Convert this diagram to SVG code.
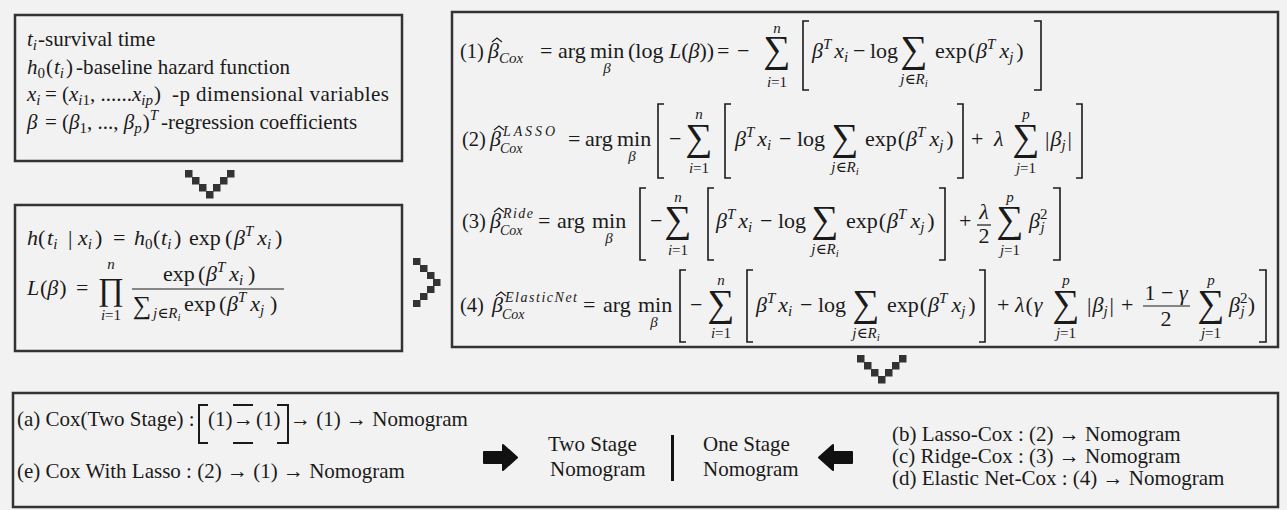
<svg xmlns="http://www.w3.org/2000/svg" width="1287" height="510" viewBox="0 0 1287 510">
<style>
.box{fill:#f2f2f2;stroke:#333;stroke-width:2.5}
text{font-family:"Liberation Serif","DejaVu Serif",serif;fill:#1a1a1a}
.m{font-size:22px}
.lb{font-size:20.5px}
.t{font-size:21px}
.i{font-style:italic}
.s{font-size:15px}
.sc{font-size:14px}
.ss{font-size:11px}
.sum{font-size:38px}
.br{fill:none;stroke:#1a1a1a;stroke-width:1.6}
.hat{fill:none;stroke:#1a1a1a;stroke-width:1.1}
.px{fill:#333}
.ln{stroke:#1a1a1a;stroke-width:1.2}
.mid{text-anchor:middle}
</style>
<rect x="0" y="0" width="1287" height="510" fill="#f2f2f2"/>

<g id="node-definitions">
<rect class="box" x="15" y="15" width="387" height="146"/>
<text class="t" x="27" y="46"><tspan class="i">t</tspan><tspan class="s i" dy="4">i</tspan><tspan dy="-4" dx="1">-survival time</tspan></text>
<text class="t" x="27" y="74"><tspan class="i">h</tspan><tspan class="s" dy="4">0</tspan><tspan dy="-4" dx="1">(</tspan><tspan class="i" dx="1">t</tspan><tspan class="s i" dy="4">i</tspan><tspan dy="-4" dx="2">)</tspan></text>
<text class="t" x="76" y="74" textLength="214" lengthAdjust="spacing">-baseline hazard function</text>
<text class="t" x="27" y="101"><tspan class="i">x</tspan><tspan class="s i" dy="4">i</tspan></text>
<text class="t" x="45" y="101">=</text>
<text class="t" x="62" y="101">(<tspan class="i">x</tspan><tspan class="s i" dy="4">i</tspan><tspan class="s">1</tspan><tspan dy="-4">, ......</tspan><tspan class="i">x</tspan><tspan class="s i" dy="4">ip</tspan><tspan dy="-4" dx="1">)</tspan></text>
<text class="t" x="172" y="101" textLength="217" lengthAdjust="spacing">-p dimensional variables</text>
<text class="t i" x="27" y="129">β</text>
<text class="t" x="45" y="129">=</text>
<text class="t" x="62" y="129">(<tspan class="i">β</tspan><tspan class="s" dy="4">1</tspan><tspan dy="-4">, ..., </tspan><tspan class="i">β</tspan><tspan class="s i" dy="4">p</tspan><tspan dy="-4" dx="1">)</tspan><tspan class="s i" dy="-9">T</tspan></text>
<text class="t" x="161" y="129">-regression coefficients</text>
</g>

<g id="node-model">
<rect class="box" x="15" y="205" width="387" height="146"/>
<text class="m i" x="27" y="245">h</text>
<text class="m" x="38" y="245">(</text>
<text class="m" x="47" y="245"><tspan class="i">t</tspan><tspan class="s i" dy="4">i</tspan></text>
<text class="m" x="68" y="245">|</text>
<text class="m" x="78" y="245"><tspan class="i">x</tspan><tspan class="s i" dy="4">i</tspan></text>
<text class="m" x="95" y="245">)</text>
<text class="m" x="113" y="245">=</text>
<text class="m" x="134" y="245"><tspan class="i">h</tspan><tspan class="s" dy="4">0</tspan></text>
<text class="m" x="153" y="245">(</text>
<text class="m" x="161" y="245"><tspan class="i">t</tspan><tspan class="s i" dy="4">i</tspan></text>
<text class="m" x="174" y="245">)</text>
<text class="m" x="189" y="245">exp</text>
<text class="m" x="225" y="245">(</text>
<text class="m" x="234" y="245"><tspan class="i">β</tspan><tspan class="s i" dy="-9">T</tspan><tspan class="i" dy="9" dx="4">x</tspan><tspan class="s i" dy="4">i</tspan></text>
<text class="m" x="275" y="245">)</text>

<text class="m i" x="27" y="295">L</text>
<text class="m" x="40" y="295">(<tspan class="i">β</tspan><tspan dx="1">)</tspan></text>
<text class="m" x="76" y="295">=</text>
<text class="mid" x="111" y="300" font-size="32">∏</text>
<text class="s i mid" x="111" y="269">n</text>
<text class="s mid" x="111" y="320"><tspan class="i">i</tspan>=1</text>
<line class="ln" x1="132" y1="289" x2="284" y2="289"/>
<text class="m" x="163" y="281">exp</text>
<text class="m" x="198" y="281">(</text>
<text class="m" x="206" y="281"><tspan class="i">β</tspan><tspan class="s i" dy="-9">T</tspan><tspan class="i" dy="9" dx="4">x</tspan><tspan class="s i" dy="4">i</tspan></text>
<text class="m" x="248" y="281">)</text>
<text class="mid" x="142" y="314" font-size="26">∑</text>
<text class="s i" x="153" y="318">j<tspan font-style="normal">∈</tspan>R<tspan class="ss" dy="3">i</tspan></text>
<text class="m" x="184" y="311">exp</text>
<text class="m" x="219" y="311">(</text>
<text class="m" x="227" y="311"><tspan class="i">β</tspan><tspan class="s i" dy="-9">T</tspan><tspan class="i" dy="9" dx="4">x</tspan><tspan class="s i" dy="4">j</tspan></text>
<text class="m" x="270" y="311">)</text>
</g>

<g id="node-equations">
<rect class="box" x="452" y="12" width="826" height="335"/>
<!-- (1) -->
<text class="lb" x="460" y="58">(1)</text>
<text class="m i" x="488" y="58">β</text>
<polyline class="hat" points="492,42 497,38 502,42"/>
<text class="s i" x="499" y="63">Cox</text>
<text class="m" x="540" y="58">=</text>
<text class="m" x="558" y="58">arg</text>
<text class="m" x="590" y="58">min</text>
<text class="s i mid" x="607" y="73">β</text>
<text class="m" x="628" y="58">(log <tspan class="i">L</tspan>(<tspan class="i">β</tspan>))</text>
<text class="m" x="717" y="58">=</text>
<text class="m" x="737" y="58">−</text>
<text class="sum mid" x="777" y="62">∑</text>
<text class="s i mid" x="777" y="33">n</text>
<text class="s mid" x="777" y="87"><tspan class="i">i</tspan>=1</text>
<path class="br" d="M809,21H803V90H809"/>
<text class="m" x="812" y="58"><tspan class="i">β</tspan><tspan class="s i" dy="-9">T</tspan><tspan class="i" dy="9" dx="3">x</tspan><tspan class="s i" dy="4">i</tspan></text>
<text class="m" x="853" y="58">−</text>
<text class="m" x="870" y="58">log</text>
<text class="sum mid" x="914" y="62">∑</text>
<text class="s i mid" x="914" y="84">j<tspan font-style="normal">∈</tspan>R<tspan class="ss" dy="3">i</tspan></text>
<text class="m" x="935" y="58">exp<tspan dx="1">(</tspan><tspan class="i" dx="1">β</tspan><tspan class="s i" dy="-9">T</tspan><tspan class="i" dy="9" dx="4">x</tspan><tspan class="s i" dy="4">j</tspan><tspan dy="-4" dx="3">)</tspan></text>
<path class="br" d="M1034,21H1041V90H1034"/>

<!-- (2) -->
<text class="lb" x="462" y="146">(2)</text>
<text class="m i" x="490" y="146">β</text>
<polyline class="hat" points="494,130 499,126 504,130"/>
<text class="sc i" x="503" y="136" textLength="52" lengthAdjust="spacing">LASSO</text>
<text class="sc i" x="500" y="153">Cox</text>
<text class="m" x="568" y="146">=</text>
<text class="m" x="585" y="146">arg</text>
<text class="m" x="617" y="146">min</text>
<text class="s i mid" x="632" y="161">β</text>
<path class="br" d="M664,104H658V178H664"/>
<text class="m" x="669" y="146">−</text>
<text class="sum mid" x="699" y="150">∑</text>
<text class="s i mid" x="699" y="119">n</text>
<text class="s mid" x="699" y="173"><tspan class="i">i</tspan>=1</text>
<path class="br" d="M731,104H725V178H731"/>
<text class="m" x="735" y="146"><tspan class="i">β</tspan><tspan class="s i" dy="-9">T</tspan><tspan class="i" dy="9" dx="3">x</tspan><tspan class="s i" dy="4">i</tspan></text>
<text class="m" x="779" y="146">−</text>
<text class="m" x="797" y="146">log</text>
<text class="sum mid" x="845" y="150">∑</text>
<text class="s i mid" x="845" y="172">j<tspan font-style="normal">∈</tspan>R<tspan class="ss" dy="3">i</tspan></text>
<text class="m" x="865" y="146">exp<tspan dx="1">(</tspan><tspan class="i" dx="1">β</tspan><tspan class="s i" dy="-9">T</tspan><tspan class="i" dy="9" dx="4">x</tspan><tspan class="s i" dy="4">j</tspan><tspan dy="-4" dx="3">)</tspan></text>
<path class="br" d="M957,104H963V178H957"/>
<text class="m" x="971" y="146">+</text>
<text class="m i" x="994" y="146">λ</text>
<text class="sum mid" x="1026" y="150">∑</text>
<text class="s i mid" x="1026" y="119">p</text>
<text class="s mid" x="1026" y="173"><tspan class="i">j</tspan>=1</text>
<text class="m" x="1045" y="146">|<tspan class="i" dx="1">β</tspan><tspan class="s i" dy="4">j</tspan><tspan dy="-4" dx="2">|</tspan></text>
<path class="br" d="M1076,104H1082V178H1076"/>

<!-- (3) -->
<text class="lb" x="462" y="228">(3)</text>
<text class="m i" x="490" y="228">β</text>
<polyline class="hat" points="494,212 499,208 504,212"/>
<text class="sc i" x="503" y="218" textLength="30" lengthAdjust="spacing">Ride</text>
<text class="sc i" x="500" y="235">Cox</text>
<text class="m" x="538" y="228">=</text>
<text class="m" x="557" y="228">arg</text>
<text class="m" x="592" y="228">min</text>
<text class="s i mid" x="609" y="243">β</text>
<path class="br" d="M646,188H640V260H646"/>
<text class="m" x="650" y="228">−</text>
<text class="sum mid" x="678" y="232">∑</text>
<text class="s i mid" x="678" y="202">n</text>
<text class="s mid" x="678" y="255"><tspan class="i">i</tspan>=1</text>
<path class="br" d="M714,188H708V260H714"/>
<text class="m" x="716" y="228"><tspan class="i">β</tspan><tspan class="s i" dy="-9">T</tspan><tspan class="i" dy="9" dx="3">x</tspan><tspan class="s i" dy="4">i</tspan></text>
<text class="m" x="760" y="228">−</text>
<text class="m" x="778" y="228">log</text>
<text class="sum mid" x="825" y="232">∑</text>
<text class="s i mid" x="825" y="254">j<tspan font-style="normal">∈</tspan>R<tspan class="ss" dy="3">i</tspan></text>
<text class="m" x="846" y="228">exp<tspan dx="1">(</tspan><tspan class="i" dx="1">β</tspan><tspan class="s i" dy="-9">T</tspan><tspan class="i" dy="9" dx="4">x</tspan><tspan class="s i" dy="4">j</tspan><tspan dy="-4" dx="3">)</tspan></text>
<path class="br" d="M939,188H945V260H939"/>
<text class="m" x="959" y="228">+</text>
<text class="m i mid" x="984" y="219">λ</text>
<line class="ln" x1="977" y1="225" x2="991" y2="225"/>
<text class="m mid" x="984" y="243">2</text>
<text class="sum mid" x="1010" y="232">∑</text>
<text class="s i mid" x="1010" y="202">p</text>
<text class="s mid" x="1010" y="255"><tspan class="i">j</tspan>=1</text>
<text class="m" x="1029" y="228"><tspan class="i">β</tspan><tspan class="s" dy="-9">2</tspan><tspan class="s i" dx="-7" dy="13">j</tspan></text>
<path class="br" d="M1053,188H1060V260H1053"/>

<!-- (4) -->
<text class="lb" x="460" y="312">(4)</text>
<text class="m i" x="492" y="312">β</text>
<polyline class="hat" points="496,296 501,292 506,296"/>
<text class="sc i" x="505" y="302" textLength="72" lengthAdjust="spacing">ElasticNet</text>
<text class="sc i" x="502" y="319">Cox</text>
<text class="m" x="583" y="312">=</text>
<text class="m" x="603" y="312">arg</text>
<text class="m" x="638" y="312">min</text>
<text class="s i mid" x="654" y="327">β</text>
<path class="br" d="M686,270H680V342H686"/>
<text class="m" x="690" y="312">−</text>
<text class="sum mid" x="721" y="316">∑</text>
<text class="s i mid" x="721" y="285">n</text>
<text class="s mid" x="721" y="338"><tspan class="i">i</tspan>=1</text>
<path class="br" d="M753,270H747V342H753"/>
<text class="m" x="756" y="312"><tspan class="i">β</tspan><tspan class="s i" dy="-9">T</tspan><tspan class="i" dy="9" dx="3">x</tspan><tspan class="s i" dy="4">i</tspan></text>
<text class="m" x="800" y="312">−</text>
<text class="m" x="818" y="312">log</text>
<text class="sum mid" x="866" y="316">∑</text>
<text class="s i mid" x="866" y="338">j<tspan font-style="normal">∈</tspan>R<tspan class="ss" dy="3">i</tspan></text>
<text class="m" x="887" y="312">exp<tspan dx="1">(</tspan><tspan class="i" dx="1">β</tspan><tspan class="s i" dy="-9">T</tspan><tspan class="i" dy="9" dx="4">x</tspan><tspan class="s i" dy="4">j</tspan><tspan dy="-4" dx="3">)</tspan></text>
<path class="br" d="M979,270H985V342H979"/>
<text class="m" x="997" y="312">+</text>
<text class="m" x="1015" y="312"><tspan class="i">λ</tspan><tspan dx="1">(</tspan><tspan class="i" dx="1">γ</tspan></text>
<text class="sum mid" x="1066" y="316">∑</text>
<text class="s i mid" x="1066" y="285">p</text>
<text class="s mid" x="1066" y="338"><tspan class="i">j</tspan>=1</text>
<text class="m" x="1087" y="312">|<tspan class="i" dx="1">β</tspan><tspan class="s i" dy="4">j</tspan><tspan dy="-4" dx="2">|</tspan></text>
<text class="m" x="1121" y="312">+</text>
<text class="m mid" x="1166" y="300">1 − <tspan class="i">γ</tspan></text>
<line class="ln" x1="1143" y1="306" x2="1190" y2="306"/>
<text class="m mid" x="1166" y="326">2</text>
<text class="sum mid" x="1211" y="316">∑</text>
<text class="s i mid" x="1211" y="285">p</text>
<text class="s mid" x="1211" y="338"><tspan class="i">j</tspan>=1</text>
<text class="m" x="1229" y="312"><tspan class="i">β</tspan><tspan class="s" dy="-9">2</tspan><tspan class="s i" dx="-7" dy="13">j</tspan><tspan dx="3" dy="-4">)</tspan></text>
<path class="br" d="M1259,270H1266V342H1259"/>
</g>

<g id="node-methods">
<rect class="box" x="13" y="393" width="1265" height="114"/>
<text class="t" x="17" y="426">(a) Cox(Two Stage) :</text>
<path fill="none" stroke="#1a1a1a" stroke-width="2" d="M208,405H199V443H208M233,405H253M233,443H253M277,405H288V443H277"/>
<text class="t" x="208" y="426">(1)</text>
<text class="t" x="233" y="426">→</text>
<text class="t" x="256" y="426">(1)</text>
<text class="t" x="290" y="426">→ (1) → Nomogram</text>
<text class="t" x="17" y="478">(e) Cox With Lasso : (2) → (1) → Nomogram</text>
<path fill="#111" stroke="#111" stroke-width="2" stroke-linejoin="round" d="M484,452H503V445L517,457.5L503,470V463H484Z"/>
<text class="t" x="548" y="451">Two Stage</text>
<text class="t" x="550" y="476">Nomogram</text>
<rect x="671" y="435" width="3" height="46" fill="#111"/>
<text class="t" x="703" y="451">One Stage</text>
<text class="t" x="703" y="476">Nomogram</text>
<path fill="#111" stroke="#111" stroke-width="2" stroke-linejoin="round" d="M852,452H833V445L819,457.5L833,470V463H852Z"/>
<text class="t" x="892" y="441">(b) Lasso-Cox : (2) → Nomogram</text>
<text class="t" x="892" y="463">(c) Ridge-Cox : (3) → Nomogram</text>
<text class="t" x="892" y="485">(d) Elastic Net-Cox : (4) → Nomogram</text>
</g>

<g id="connectors">
<g class="px">
<rect x="185" y="170" width="7.5" height="7.5"/><rect x="227" y="170" width="7.5" height="7.5"/>
<rect x="192" y="177" width="7.5" height="7.5"/><rect x="220" y="177" width="7.5" height="7.5"/>
<rect x="199" y="184" width="7.5" height="7.5"/><rect x="213" y="184" width="7.5" height="7.5"/>
<rect x="206" y="191" width="7.5" height="7.5"/>
</g>
<g class="px">
<rect x="413" y="258" width="7.5" height="7"/>
<rect x="420" y="265" width="7.5" height="7"/>
<rect x="427" y="272" width="7.5" height="7"/>
<rect x="433" y="279" width="7.5" height="7"/>
<rect x="427" y="286" width="7.5" height="7"/>
<rect x="420" y="293" width="7.5" height="7"/>
<rect x="413" y="300" width="7.5" height="7"/>
</g>
<g class="px">
<rect x="857" y="355" width="7.5" height="7.5"/><rect x="899" y="355" width="7.5" height="7.5"/>
<rect x="864" y="362" width="7.5" height="7.5"/><rect x="892" y="362" width="7.5" height="7.5"/>
<rect x="871" y="369" width="7.5" height="7.5"/><rect x="885" y="369" width="7.5" height="7.5"/>
<rect x="878" y="376" width="7.5" height="7.5"/>
</g>
</g>
</svg>
